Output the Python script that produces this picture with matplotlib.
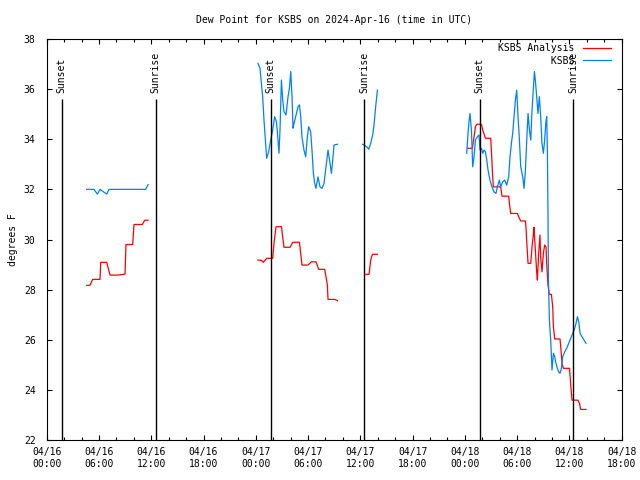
import numpy as np
import matplotlib
matplotlib.use('Agg')
import matplotlib.pyplot as plt
import matplotlib.dates as mdates
from datetime import datetime

nan = np.nan
start = datetime(2024, 4, 16, 0, 0)

# hours since 04/16 00:00 UTC, nan marks a gap between data blocks
analysis_hours = [4.59, 4.97, 5.28, 6.12, 6.20, 6.89, 7.27, 8.19, 8.99, 9.10, 9.87, 10.02, 10.98, 11.25, 11.63,
                  nan,
                  24.25, 24.64, 24.87, 25.25, 25.94, 26.09, 26.32, 26.94, 27.24, 27.93, 28.24, 29.01, 29.30,
                  29.99, 30.38, 30.91, 31.22, 31.91, 32.22, 32.29, 33.06, 33.37,
                  nan,
                  36.62, 37.00, 37.19, 37.38, 37.96,
                  nan,
                  48.29, 48.86, 49.05, 49.21, 49.36, 49.90, 50.05, 50.36, 50.96, 51.04, 51.19, 51.27, 52.11,
                  52.26, 53.03, 53.11, 53.26, 54.03, 54.26, 54.41, 54.95, 55.02, 55.10, 55.25, 55.56, 55.71,
                  55.87, 55.93, 56.09, 56.24, 56.32, 56.47, 56.62, 56.70, 56.85, 57.01, 57.16, 57.31, 57.39,
                  57.54, 57.70, 57.93, 58.08, 58.16, 58.31, 58.92, 59.00, 59.15, 59.31, 60.00, 60.07, 60.15,
                  60.30, 60.99, 61.15, 61.29, 61.90]
analysis_dewpt = [28.17, 28.17, 28.41, 28.41, 29.09, 29.09, 28.58, 28.58, 28.62, 29.80, 29.80, 30.60, 30.60, 30.77, 30.77,
                  nan,
                  29.18, 29.17, 29.09, 29.25, 29.25, 29.85, 30.51, 30.51, 29.69, 29.69, 29.89, 29.89, 28.98,
                  28.98, 29.11, 29.11, 28.81, 28.81, 28.18, 27.61, 27.61, 27.56,
                  nan,
                  28.61, 28.61, 29.18, 29.41, 29.41,
                  nan,
                  33.64, 33.64, 34.10, 34.50, 34.60, 34.60, 34.37, 34.04, 34.04, 33.57, 32.50, 32.10, 32.10,
                  31.73, 31.73, 31.44, 31.04, 31.04, 30.84, 30.74, 30.74, 30.45, 29.91, 29.05, 29.05, 29.71,
                  30.25, 30.49, 29.58, 28.71, 28.38, 29.45, 30.18, 29.31, 28.71, 29.45, 29.78, 29.71, 29.05,
                  28.18, 27.81, 27.81, 27.32, 26.52, 26.03, 26.03, 25.72, 25.06, 24.86, 24.86, 24.59, 24.19,
                  23.59, 23.59, 23.46, 23.22, 23.22]

obs_hours = [4.59, 5.43, 5.82, 6.12, 6.89, 7.15, 11.36, 11.63,
             nan,
             24.25, 24.48, 24.79, 24.94, 25.14, 25.25, 25.48, 25.71, 25.94, 26.17, 26.37, 26.55, 26.66,
             26.78, 26.94, 27.09, 27.24, 27.47, 27.70, 27.86, 28.01, 28.16, 28.27, 28.39, 28.58, 28.85,
             29.01, 29.16, 29.30, 29.53, 29.73, 29.92, 30.07, 30.30, 30.45, 30.61, 30.76, 30.91, 31.14,
             31.37, 31.60, 31.83, 32.06, 32.29, 32.52, 32.68, 32.83, 32.98, 33.37,
             nan,
             36.27, 36.73, 36.96, 37.19, 37.42, 37.57, 37.76, 37.96,
             nan,
             48.21, 48.36, 48.47, 48.59, 48.75, 48.90, 49.05, 49.21, 49.44, 49.62, 49.74, 49.90, 50.05,
             50.20, 50.36, 50.51, 50.66, 50.88, 51.11, 51.34, 51.57, 51.73, 51.96, 52.11, 52.34, 52.57,
             52.80, 53.03, 53.18, 53.34, 53.49, 53.64, 53.80, 53.95, 54.10, 54.26, 54.41, 54.64, 54.79,
             54.95, 55.10, 55.25, 55.41, 55.56, 55.71, 55.87, 55.98, 56.09, 56.24, 56.39, 56.55, 56.70,
             56.85, 57.01, 57.16, 57.28, 57.39, 57.47, 57.54, 57.59, 57.70, 57.85, 58.00, 58.16, 58.31,
             58.46, 58.62, 58.77, 58.92, 59.08, 59.23, 59.46, 59.69, 59.92, 60.15, 60.38, 60.61, 60.76,
             60.92, 61.07, 61.22, 61.44, 61.67, 61.90]
obs_dewpt = [32.00, 32.00, 31.81, 32.00, 31.81, 32.00, 32.00, 32.19,
             nan,
             37.03, 36.83, 35.70, 34.77, 33.77, 33.24, 33.50, 33.97, 34.37, 34.90, 34.70, 33.97, 33.44,
             34.37, 36.36, 35.57, 35.10, 34.97, 35.70, 36.03, 36.70, 35.70, 34.44, 34.63, 34.90, 35.30,
             35.37, 34.90, 34.10, 33.57, 33.30, 34.10, 34.50, 34.30, 33.57, 32.64, 32.24, 32.04, 32.50,
             32.10, 32.04, 32.24, 32.90, 33.57, 33.04, 32.64, 33.17, 33.77, 33.80,
             nan,
             33.80, 33.70, 33.60, 33.84, 34.17, 34.57, 35.30, 35.96,
             nan,
             33.44, 34.24, 34.70, 35.03, 34.37, 32.90, 33.30, 33.97, 34.10, 34.17, 33.57, 33.64, 33.44,
             33.57, 33.50, 33.17, 32.77, 32.37, 32.10, 31.90, 31.84, 32.10, 32.37, 32.10, 32.30, 32.37,
             32.17, 32.50, 33.30, 33.84, 34.24, 34.90, 35.57, 35.96, 34.90, 33.97, 32.90, 32.50, 32.04,
             32.77, 33.97, 35.03, 34.37, 33.97, 35.17, 36.10, 36.70, 36.36, 35.70, 35.03, 35.70, 34.90,
             33.84, 33.44, 33.97, 34.63, 34.90, 33.57, 31.04, 28.38, 26.79, 25.99, 24.79, 25.46, 25.32,
             25.06, 24.86, 24.72, 24.66, 24.86, 25.32, 25.52, 25.66, 25.86, 26.06, 26.26, 26.46, 26.66,
             26.92, 26.72, 26.26, 26.12, 25.99, 25.86]

sunset_hours = [1.70, 25.72, 49.72]
sunrise_hours = [12.50, 36.47, 60.45]

plt.rcParams['font.family'] = 'DejaVu Sans Mono'
plt.rcParams['font.size'] = 7

t0 = mdates.date2num(start)
def to_x(hours):
    return t0 + np.asarray(hours, dtype=float) / 24.0

fig = plt.figure(figsize=(6.4, 4.8), dpi=100)
ax = fig.add_axes([46.7 / 640, 1 - 440 / 480, 575 / 640, 401 / 480])

ax.plot(to_x(analysis_hours), analysis_dewpt, color='#ff0000', lw=0.9, label='KSBS Analysis')
ax.plot(to_x(obs_hours), obs_dewpt, color='#0080ff', lw=0.9, label='         KSBS')

for h in sunset_hours:
    ax.vlines(to_x(h), 22, 35.6, color='black', lw=1)
    ax.text(to_x(h), 35.85, 'Sunset', rotation=90, ha='center', va='bottom')
for h in sunrise_hours:
    ax.vlines(to_x(h), 22, 35.6, color='black', lw=1)
    ax.text(to_x(h), 35.85, 'Sunrise', rotation=90, ha='center', va='bottom')

ax.set_xlim(to_x(0), to_x(66))
ax.set_ylim(22, 38)
ax.set_yticks(np.arange(22, 39, 2))
ax.xaxis_date()
ax.xaxis.set_major_locator(mdates.HourLocator(byhour=[0, 6, 12, 18]))
ax.xaxis.set_minor_locator(mdates.HourLocator(interval=2))
ax.xaxis.set_major_formatter(mdates.DateFormatter('%m/%d\n%H:%M'))
ax.tick_params(which='both', direction='in', top=True, right=True, width=0.8)
ax.tick_params(which='major', length=3.6, pad=5)
ax.tick_params(which='minor', length=2.2)
ax.tick_params(axis='y', pad=8)
for s in ax.spines.values():
    s.set_linewidth(0.8)

fig.text(334 / 640, 1 - 20 / 480, 'Dew Point for KSBS on 2024-Apr-16 (time in UTC)', ha='center', va='center')
fig.text(13 / 640, 1 - 240 / 480, 'degrees F', rotation=90, ha='center', va='center')

ax.legend(loc='upper right', bbox_to_anchor=(614 / 640, 1 - 40 / 480), bbox_transform=fig.transFigure,
          frameon=False, markerfirst=False, handlelength=2.9, handletextpad=0.9,
          labelspacing=0.3, borderaxespad=0, borderpad=0.3)

fig.savefig('out.png', dpi=100)
